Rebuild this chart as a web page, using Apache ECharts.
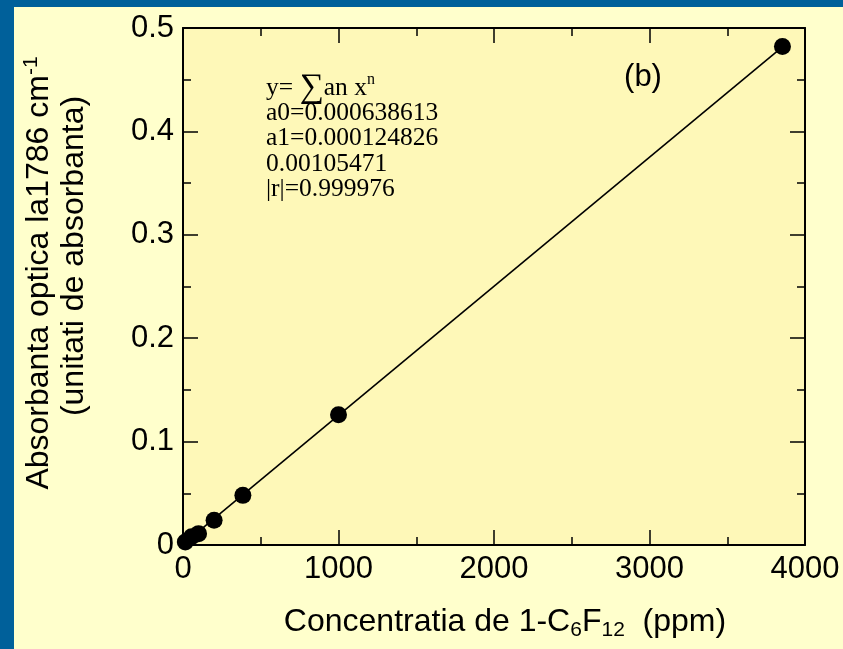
<!DOCTYPE html>
<html>
<head>
<meta charset="utf-8">
<script src="https://cdn.jsdelivr.net/npm/echarts@6/dist/echarts.min.js"></script>
<style>
  html, body { margin: 0; padding: 0; background: #00609a; overflow: hidden; }
  #panel { position: absolute; left: 14px; top: 7px; width: 829px; height: 642px; background: #ffffcc; }
  #chart { position: absolute; left: 0; top: 0; width: 843px; height: 649px; }
</style>
</head>
<body>
<div id="panel"></div>
<div id="chart"></div>
<script>
// ---- data ----
const concentration = [15, 55, 100, 200, 385, 1000, 3855];       // ppm
const absorbance    = [0.003, 0.008, 0.011, 0.024, 0.048, 0.126, 0.482];
const fitLineX = [0, 3855];
const fitLineY = [0.0006, 0.4818];
const xTickValues = [0, 1000, 2000, 3000, 4000];
const yTickValues = [0, 0.1, 0.2, 0.3, 0.4, 0.5];
const fitLabel = ['a0=0.000638613', 'a1=0.000124826', '0.00105471', '|r|=0.999976'];
const panelLabel = '(b)';

const SANS = "'Liberation Sans', Arial, Helvetica, sans-serif";
const SERIF = "'Liberation Serif', 'Times New Roman', serif";

const points = concentration.map((x, i) => [x, absorbance[i]]);
const fitPoints = fitLineX.map((x, i) => [x, fitLineY[i]]);

const chart = echarts.init(document.getElementById('chart'), null, { renderer: 'canvas' });

function axisBase(showLabels, pos, minV, maxV, step, fmt) {
  return {
    type: 'value', position: pos, min: minV, max: maxV, interval: step,
    axisLine: { show: true, onZero: false, lineStyle: { color: '#000', width: 2 } },
    axisTick: { show: true, inside: true, length: 15, lineStyle: { color: '#000', width: 1.5 } },
    minorTick: { show: true, splitNumber: 2, length: 8, lineStyle: { color: '#000', width: 1.5 } },
    splitLine: { show: false },
    minorSplitLine: { show: false },
    axisLabel: showLabels ? { show: true, color: '#000', fontSize: 31, fontFamily: SANS, margin: 9, formatter: fmt } : { show: false }
  };
}

const xFmt = v => String(v);
const yFmt = v => (v === 0 ? '0' : v.toFixed(1));

const fitGraphics = fitLabel.map((t, i) => ({
  type: 'text', x: 266, y: 113 + i * 25.5, z: 10,
  style: { text: t, font: '25.5px ' + SERIF, fill: '#000', align: 'left', verticalAlign: 'middle' }
}));

chart.setOption({
  backgroundColor: 'transparent',
  animation: false,
  grid: { left: 183, right: 38, top: 28, bottom: 104, show: true, backgroundColor: '#fef8b8', borderWidth: 0 },
  xAxis: [
    axisBase(true, 'bottom', xTickValues[0], xTickValues[xTickValues.length - 1], xTickValues[1] - xTickValues[0], xFmt),
    axisBase(false, 'top', xTickValues[0], xTickValues[xTickValues.length - 1], xTickValues[1] - xTickValues[0], xFmt)
  ],
  yAxis: [
    axisBase(true, 'left', yTickValues[0], yTickValues[yTickValues.length - 1], 0.1, yFmt),
    axisBase(false, 'right', yTickValues[0], yTickValues[yTickValues.length - 1], 0.1, yFmt)
  ],
  series: [
    {
      type: 'line', data: fitPoints, xAxisIndex: 0, yAxisIndex: 0,
      showSymbol: false, symbol: 'none', lineStyle: { color: '#000', width: 1.6 }, z: 2, silent: true
    },
    {
      type: 'scatter', data: points, xAxisIndex: 0, yAxisIndex: 0,
      symbol: 'circle', symbolSize: 17, itemStyle: { color: '#000', opacity: 1 }, z: 3
    }
  ],
  graphic: [
    {
      type: 'text', x: 266, y: 88, z: 10,
      style: {
        text: '{t|y= }{g|∑}{t|an x}{p|n}',
        align: 'left', verticalAlign: 'middle',
        rich: {
          t: { fontSize: 25.5, fontFamily: SERIF, fill: '#000', lineHeight: 32 },
          g: { fontSize: 34, fontFamily: SERIF, fill: '#000', lineHeight: 32 },
          p: { fontSize: 16, fontFamily: SERIF, fill: '#000', lineHeight: 16, verticalAlign: 'top' }
        }
      }
    },
    ...fitGraphics,
    {
      type: 'text', x: 643, y: 77, z: 10,
      style: { text: panelLabel, font: '31px ' + SANS, fill: '#000', align: 'center', verticalAlign: 'middle' }
    },
    {
      type: 'text', x: 505, y: 622, z: 10,
      style: {
        text: '{a|Concentratia de 1-C}{s|6}{a|F}{s|12}{a|  (ppm)}',
        align: 'center', verticalAlign: 'middle',
        rich: {
          a: { fontSize: 32, fontFamily: SANS, fill: '#000', lineHeight: 38 },
          s: { fontSize: 21, fontFamily: SANS, fill: '#000', lineHeight: 21, verticalAlign: 'bottom' }
        }
      }
    },
    {
      type: 'text', x: 39, y: 273, rotation: Math.PI / 2, z: 10,
      style: {
        text: '{a|Absorbanta optica la1786 cm}{p|-1}',
        align: 'center', verticalAlign: 'middle',
        rich: {
          a: { fontSize: 32, fontFamily: SANS, fill: '#000', lineHeight: 36 },
          p: { fontSize: 21, fontFamily: SANS, fill: '#000', lineHeight: 21, verticalAlign: 'top' }
        }
      }
    },
    {
      type: 'text', x: 74, y: 256, rotation: Math.PI / 2, z: 10,
      style: { text: '(unitati de absorbanta)', font: '32px ' + SANS, fill: '#000', align: 'center', verticalAlign: 'middle' }
    }
  ]
});
</script>
</body>
</html>
